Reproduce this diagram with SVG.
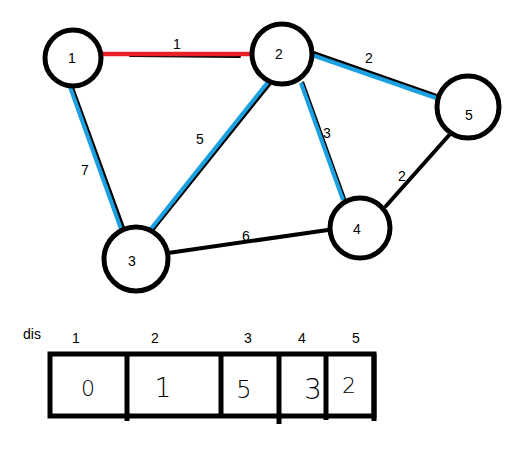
<svg xmlns="http://www.w3.org/2000/svg" width="526" height="470" viewBox="0 0 526 470">
<style>
.n{fill:#fff;stroke:#000;stroke-width:5}
.t{font-family:"Liberation Sans",Arial,sans-serif;font-size:14px;fill:#000;text-anchor:middle}
.hw{font-family:"DejaVu Sans","Liberation Sans",sans-serif;font-weight:200;fill:#000;text-anchor:middle}
.bk{stroke:#000;stroke-width:4;fill:none;stroke-linecap:round}
.bl{stroke:#1ba1e2;stroke-width:4;fill:none}
.rd{stroke:#e8202a;stroke-width:4.5;fill:none}
.tb{fill:none;stroke:#000;stroke-width:5}
</style>
<rect width="526" height="470" fill="#fff"/>
<g id="edges">
<line class="bk" x1="130" y1="56" x2="240" y2="57" style="stroke-width:2"/>
<line class="rd" x1="100" y1="54" x2="252" y2="54"/>
<line class="bk" x1="72" y1="86" x2="124" y2="229" style="stroke-width:3"/>
<line class="bl" x1="70" y1="87" x2="121" y2="229"/>
<line class="bk" x1="270" y1="84" x2="152" y2="231" style="stroke-width:3"/>
<line class="bl" x1="268" y1="82" x2="150" y2="230"/>
<line class="bk" x1="312" y1="52" x2="438" y2="96" style="stroke-width:3"/>
<line class="bl" x1="312" y1="55" x2="436" y2="98"/>
<line class="bk" x1="303" y1="83" x2="345" y2="200" style="stroke-width:3"/>
<line class="bl" x1="301" y1="83" x2="343" y2="200"/>
<line class="bk" x1="386" y1="206" x2="451" y2="133"/>
<line class="bk" x1="168" y1="253" x2="328" y2="230"/>
<text class="t" x="177" y="49">1</text>
<text class="t" x="85" y="175">7</text>
<text class="t" x="200" y="144">5</text>
<text class="t" x="369" y="63">2</text>
<text class="t" x="327" y="138">3</text>
<text class="t" x="402" y="181">2</text>
<text class="t" x="246" y="241">6</text>
</g>
<g id="node1"><circle class="n" cx="73" cy="58" r="28"/><text class="t" x="72" y="63">1</text></g>
<g id="node2"><circle class="n" cx="282" cy="54" r="30"/><text class="t" x="279" y="59">2</text></g>
<g id="node5"><circle class="n" cx="468" cy="107" r="31"/><text class="t" x="469" y="120">5</text></g>
<g id="node4"><circle class="n" cx="360" cy="228" r="30"/><text class="t" x="357" y="234">4</text></g>
<g id="node3"><circle class="n" cx="136" cy="259" r="32"/><text class="t" x="132" y="266">3</text></g>
<g id="table">
<text class="t" x="32" y="339">dis</text>
<text class="t" x="76" y="343">1</text>
<text class="t" x="155" y="343">2</text>
<text class="t" x="248" y="343">3</text>
<text class="t" x="302" y="343">4</text>
<text class="t" x="356" y="343">5</text>
<rect class="tb" x="50" y="354" width="324" height="62"/>
<line class="tb" x1="127" y1="354" x2="127" y2="421"/>
<line class="tb" x1="221" y1="354" x2="221" y2="418"/>
<line class="tb" x1="279" y1="354" x2="279" y2="424"/>
<line class="tb" x1="326" y1="354" x2="326" y2="420"/>
<line class="tb" x1="374" y1="354" x2="374" y2="421"/>
<text class="hw" x="88" y="396" style="font-size:22px">0</text>
<text class="hw" x="163" y="397" style="font-size:26px">1</text>
<text class="hw" x="244" y="398" style="font-size:24px">5</text>
<text class="hw" x="313" y="399" style="font-size:28px">3</text>
<text class="hw" x="349" y="393" style="font-size:22px">2</text>
</g>
</svg>
